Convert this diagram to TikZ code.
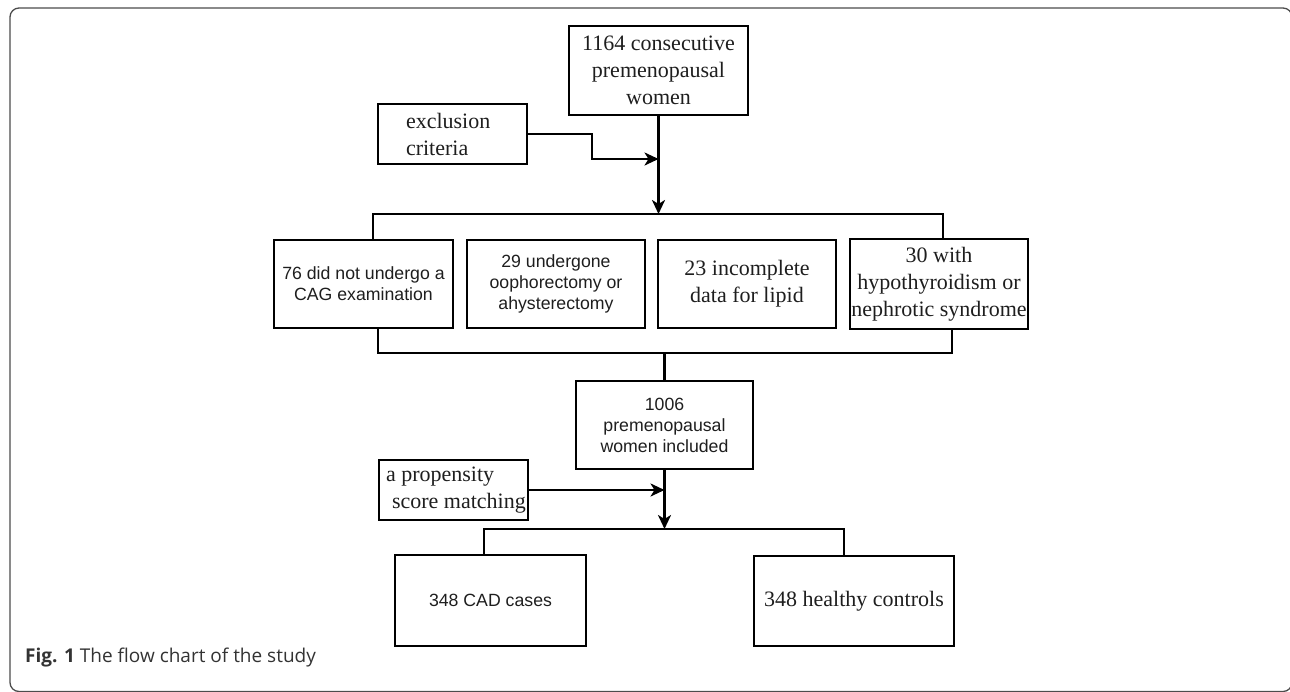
\documentclass[tikz,border=0pt]{standalone}
\usepackage{fontspec}
\setmainfont{Liberation Serif}
\newfontfamily\arialf{Liberation Sans}
\newfontfamily\capf{Open Sans}
\usetikzlibrary{arrows.meta}
\definecolor{txt}{HTML}{1E1E1E}
\tikzset{
  boxbase/.style={draw=black, line width=2.6pt, inner sep=0pt, outer sep=0pt, align=center, text=txt},
  serifbox/.style={boxbase, font=\fontsize{22}{27}\selectfont},
  sansbox/.style={boxbase, font=\arialf\fontsize{17.7}{21}\selectfont},
  link/.style={draw=black, line width=2.6pt},
  arr/.style={link, -{Stealth[length=14pt,width=13pt,inset=4pt]}},
}
\begin{document}
\begin{tikzpicture}[x=1pt,y=-1pt]
\useasboundingbox (0,0) rectangle (1290,691);
\draw[draw=black!70, line width=1.3pt, rounded corners=9pt] (10,8) rectangle (1292,691.5);

% nodes
\node[serifbox, minimum width=179pt, minimum height=89pt] (top) at (658.5,70.5) {\raisebox{-3pt}{\parbox{179pt}{\centering 1164 consecutive\\premenopausal\\women}}};
\node[serifbox, minimum width=149pt, minimum height=60pt, align=left] (excl) at (452.5,134) {\hspace*{28pt}\parbox{108pt}{exclusion\\criteria\hfill}\hspace*{13pt}};

\node[sansbox, minimum width=179pt, minimum height=88pt] (b1) at (363.5,284) {76 did not undergo a\\CAG examination};
\node[sansbox, minimum width=178pt, minimum height=88pt] (b2) at (556,284) {29 undergone\\oophorectomy or\\ahysterectomy};
\node[serifbox, minimum width=178pt, minimum height=88pt] (b3) at (747,284) {23 incomplete\\data for lipid};
\node[serifbox, minimum width=178pt, minimum height=90pt] (b4) at (939,284) {\raisebox{4pt}{\parbox{178pt}{\centering 30 with\\hypothyroidism or\\\hspace*{-4pt}nephrotic syndrome\hspace*{-4pt}}}};

\node[sansbox, minimum width=177pt, minimum height=88pt] (mid) at (664.5,425) {1006\\premenopausal\\women included};
\node[serifbox, minimum width=149pt, minimum height=60pt] (prop) at (453.5,490) {\parbox{149pt}{\hspace*{7pt}a propensity\\\hspace*{13pt}score matching}};

\node[sansbox, minimum width=191pt, minimum height=91pt] (lb) at (490.5,600.5) {348 CAD cases};
\node[serifbox, minimum width=200pt, minimum height=90pt] (rb) at (854,601) {\raisebox{-4pt}{348 healthy controls}};

% junction coordinates
\coordinate (k1) at (658.5,159);
\coordinate (j1) at (658.5,214);
\coordinate (j2) at (664.5,353);
\coordinate (k2) at (664.5,490);
\coordinate (j3) at (664.5,529);

% connectors
\draw[arr] (top.south) -- (j1);
\draw[arr] (excl.east) -- ++(65,0) |- (k1);
\draw[link] ([xshift=9.5pt]b1.north) |- (j1) -| ([xshift=4pt]b4.north);
\draw[link] ([xshift=14.5pt]b1.south) |- (j2) -| ([xshift=13pt]b4.south);
\draw[link] (j2) -- (mid.north);
\draw[arr] (mid.south) -- (j3);
\draw[arr] (prop.east) -- (k2);
\draw[link] ([xshift=-6.5pt]lb.north) |- (j3) -| ([xshift=-10pt]rb.north);

% caption
\node[anchor=base west, inner sep=0pt, text=black!80, font=\capf\fontsize{19}{22}\selectfont] (cap) at (25,662) {\textbf{Fig. 1} The flow chart of the study};
\end{tikzpicture}
\end{document}
